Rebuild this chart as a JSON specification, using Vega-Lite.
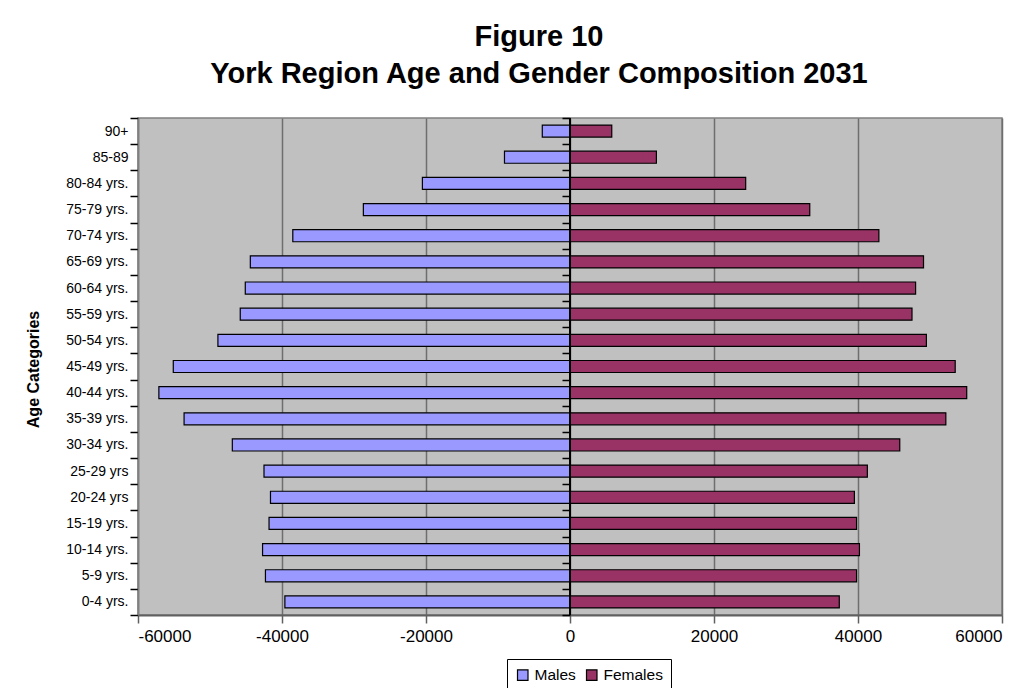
{
  "$schema": "https://vega.github.io/schema/vega-lite/v6.json",
  "width": 864,
  "height": 497,
  "autosize": {"type": "none"},
  "padding": {"left": 138, "top": 118, "right": 32, "bottom": 73},
  "background": "white",
  "config": {
    "font": "Liberation Sans",
    "view": {"fill": "#C0C0C0", "stroke": "#808080", "strokeWidth": 1.5}
  },
  "title": {
    "text": ["Figure 10", "York Region Age and Gender Composition 2031"],
    "font": "Liberation Sans",
    "fontSize": 29,
    "fontWeight": "bold",
    "color": "black",
    "anchor": "middle",
    "frame": "group",
    "lineHeight": 36.6,
    "dx": -31,
    "offset": 22
  },
  "data": {
    "values": [
      {"age": "90+", "sex": "Males", "value": -3850},
      {"age": "85-89", "sex": "Males", "value": -9100},
      {"age": "80-84 yrs.", "sex": "Males", "value": -20500},
      {"age": "75-79 yrs.", "sex": "Males", "value": -28700},
      {"age": "70-74 yrs.", "sex": "Males", "value": -38500},
      {"age": "65-69 yrs.", "sex": "Males", "value": -44400},
      {"age": "60-64 yrs.", "sex": "Males", "value": -45100},
      {"age": "55-59 yrs.", "sex": "Males", "value": -45800},
      {"age": "50-54 yrs.", "sex": "Males", "value": -48900},
      {"age": "45-49 yrs.", "sex": "Males", "value": -55100},
      {"age": "40-44 yrs.", "sex": "Males", "value": -57100},
      {"age": "35-39 yrs.", "sex": "Males", "value": -53600},
      {"age": "30-34 yrs.", "sex": "Males", "value": -46900},
      {"age": "25-29 yrs", "sex": "Males", "value": -42500},
      {"age": "20-24 yrs", "sex": "Males", "value": -41600},
      {"age": "15-19 yrs.", "sex": "Males", "value": -41800},
      {"age": "10-14 yrs.", "sex": "Males", "value": -42700},
      {"age": "5-9 yrs.", "sex": "Males", "value": -42300},
      {"age": "0-4 yrs.", "sex": "Males", "value": -39600},
      {"age": "90+", "sex": "Females", "value": 5800},
      {"age": "85-89", "sex": "Females", "value": 12000},
      {"age": "80-84 yrs.", "sex": "Females", "value": 24400},
      {"age": "75-79 yrs.", "sex": "Females", "value": 33300},
      {"age": "70-74 yrs.", "sex": "Females", "value": 42900},
      {"age": "65-69 yrs.", "sex": "Females", "value": 49100},
      {"age": "60-64 yrs.", "sex": "Females", "value": 48000},
      {"age": "55-59 yrs.", "sex": "Females", "value": 47500},
      {"age": "50-54 yrs.", "sex": "Females", "value": 49500},
      {"age": "45-49 yrs.", "sex": "Females", "value": 53500},
      {"age": "40-44 yrs.", "sex": "Females", "value": 55100},
      {"age": "35-39 yrs.", "sex": "Females", "value": 52200},
      {"age": "30-34 yrs.", "sex": "Females", "value": 45800},
      {"age": "25-29 yrs", "sex": "Females", "value": 41300},
      {"age": "20-24 yrs", "sex": "Females", "value": 39500},
      {"age": "15-19 yrs.", "sex": "Females", "value": 39800},
      {"age": "10-14 yrs.", "sex": "Females", "value": 40200},
      {"age": "5-9 yrs.", "sex": "Females", "value": 39800},
      {"age": "0-4 yrs.", "sex": "Females", "value": 37400}
    ]
  },
  "resolve": {"axis": {"y": "independent"}},
  "layer": [
    {
      "mark": {"type": "bar", "stroke": "black", "strokeWidth": 1.2, "height": {"band": 0.46}},
      "encoding": {
        "y": {
          "field": "age",
          "type": "nominal",
          "sort": ["90+", "85-89", "80-84 yrs.", "75-79 yrs.", "70-74 yrs.", "65-69 yrs.", "60-64 yrs.", "55-59 yrs.", "50-54 yrs.", "45-49 yrs.", "40-44 yrs.", "35-39 yrs.", "30-34 yrs.", "25-29 yrs", "20-24 yrs", "15-19 yrs.", "10-14 yrs.", "5-9 yrs.", "0-4 yrs."],
          "scale": {"paddingInner": 0, "paddingOuter": 0},
          "axis": {
            "orient": "left",
            "title": "Age Categories",
            "titleFont": "Liberation Sans",
            "titleFontSize": 16,
            "titleFontWeight": "bold",
            "titleColor": "black",
            "titleX": -105,
            "titleY": 251,
            "titleBaseline": "middle",
            "titleAngle": -90,
            "labelFontSize": 14,
            "labelColor": "black",
            "labelPadding": 2,
            "tickSize": 8,
            "tickColor": "black",
            "tickWidth": 1.5,
            "tickBand": "extent",
            "domainColor": "#808080",
            "domainWidth": 1.5,
            "grid": false
          }
        },
        "x": {
          "field": "value",
          "type": "quantitative",
          "scale": {"domain": [-60000, 60000], "nice": false},
          "axis": {
            "title": null,
            "values": [-60000, -40000, -20000, 0, 20000, 40000, 60000],
            "labelExpr": "'' + datum.value",
            "labelFontSize": 17,
            "labelColor": "black",
            "labelPadding": 5,
            "tickSize": 8,
            "tickColor": "#606060",
            "tickWidth": 1.5,
            "domainColor": "#606060",
            "domainWidth": 2,
            "grid": true,
            "gridColor": "#6e6e6e",
            "gridWidth": 1.5
          }
        },
        "color": {
          "field": "sex",
          "type": "nominal",
          "sort": ["Males", "Females"],
          "scale": {"domain": ["Males", "Females"], "range": ["#9999FF", "#993366"]},
          "legend": {
            "title": null,
            "orient": "none",
            "direction": "horizontal",
            "legendX": 369,
            "legendY": 541,
            "symbolType": "square",
            "symbolSize": 110,
            "symbolStrokeColor": "black",
            "symbolStrokeWidth": 1.2,
            "labelFontSize": 15.5,
            "labelColor": "black",
            "labelOffset": 4,
            "columnPadding": 8,
            "padding": 8,
            "strokeColor": "black",
            "fillColor": "white"
          }
        }
      }
    },
    {
      "mark": {"type": "bar", "opacity": 0},
      "encoding": {
        "y": {
          "field": "age",
          "type": "nominal",
          "sort": ["90+", "85-89", "80-84 yrs.", "75-79 yrs.", "70-74 yrs.", "65-69 yrs.", "60-64 yrs.", "55-59 yrs.", "50-54 yrs.", "45-49 yrs.", "40-44 yrs.", "35-39 yrs.", "30-34 yrs.", "25-29 yrs", "20-24 yrs", "15-19 yrs.", "10-14 yrs.", "5-9 yrs.", "0-4 yrs."],
          "axis": {
            "orient": "left",
            "title": null,
            "labels": false,
            "domain": false,
            "grid": false,
            "offset": -432,
            "tickSize": 8,
            "tickColor": "black",
            "tickWidth": 1.5,
            "tickBand": "extent"
          }
        },
        "x": {"field": "value", "type": "quantitative"}
      }
    },
    {
      "mark": {"type": "rule", "color": "black", "strokeWidth": 2},
      "encoding": {"x": {"datum": 0}}
    }
  ]
}
